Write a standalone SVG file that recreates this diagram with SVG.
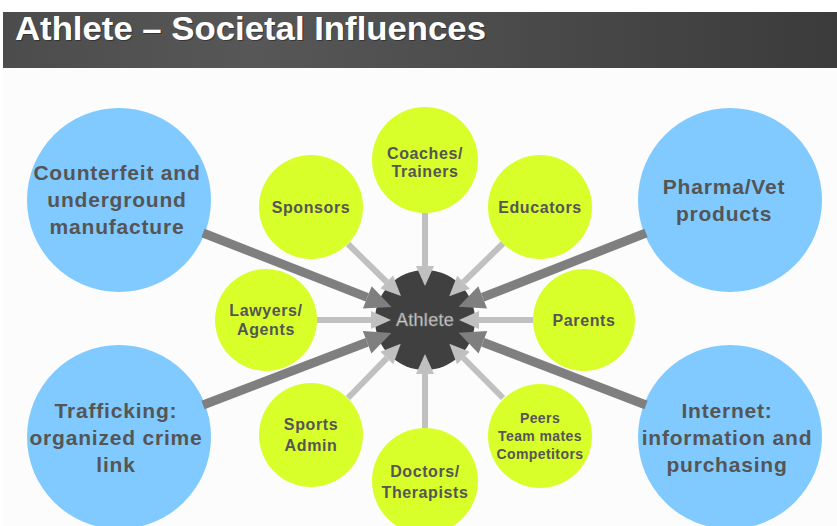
<svg xmlns="http://www.w3.org/2000/svg" width="837" height="526" viewBox="0 0 837 526">
<defs>
<linearGradient id="bar" x1="0" y1="0" x2="1" y2="0">
<stop offset="0" stop-color="#4c4c4c"/>
<stop offset="0.3" stop-color="#575757"/>
<stop offset="1" stop-color="#3b3b3b"/>
</linearGradient>
<marker id="hl" markerUnits="userSpaceOnUse" markerWidth="20" markerHeight="18" refX="0" refY="9" orient="auto" overflow="visible">
<path d="M0,0 L20,9 L0,18 z" fill="#c0c0c0"/>
</marker>
<marker id="hd" markerUnits="userSpaceOnUse" markerWidth="26" markerHeight="24" refX="0" refY="12" orient="auto" overflow="visible">
<path d="M0,0 L26,12 L0,24 z" fill="#7f7f7f"/>
</marker>
</defs>
<style>
.g{fill:#d9ff2a}
.b{fill:#80caff}
.tg{font-family:"Liberation Sans",Arial,sans-serif;font-weight:bold;font-size:16px;letter-spacing:0.6px;fill:#555;text-anchor:middle}
.tb{font-family:"Liberation Sans",Arial,sans-serif;font-weight:bold;font-size:21px;letter-spacing:0.8px;fill:#555;text-anchor:middle}
.cl{stroke:#c0c0c0;stroke-width:6;fill:none;marker-end:url(#hl)}
.cd{stroke:#7f7f7f;stroke-width:9;fill:none;marker-end:url(#hd)}
</style>
<rect x="0" y="0" width="837" height="526" fill="#ffffff"/>
<rect x="3" y="68" width="834" height="458" fill="#fcfcfc"/>
<g id="title">
<rect x="3" y="12" width="834" height="56" fill="url(#bar)"/>
<text x="16" y="41" font-family="Liberation Sans,Arial,sans-serif" font-weight="bold" font-size="33" fill="#000" opacity="0.35" textLength="471" lengthAdjust="spacingAndGlyphs">Athlete – Societal Influences</text>
<text x="15" y="40" font-family="Liberation Sans,Arial,sans-serif" font-weight="bold" font-size="33" fill="#ffffff" textLength="471" lengthAdjust="spacingAndGlyphs">Athlete – Societal Influences</text>
</g>
<g id="counterfeit"><circle class="b" cx="119" cy="200" r="92"/><text class="tb" x="117" y="180">Counterfeit and</text><text class="tb" x="117" y="207">underground</text><text class="tb" x="117" y="234">manufacture</text></g>
<g id="pharma"><circle class="b" cx="730" cy="200" r="92"/><text class="tb" x="724" y="194">Pharma/Vet</text><text class="tb" x="724" y="221">products</text></g>
<g id="trafficking"><circle class="b" cx="119" cy="437" r="92"/><text class="tb" x="116" y="418">Trafficking:</text><text class="tb" x="116" y="445">organized crime</text><text class="tb" x="116" y="472">link</text></g>
<g id="internet"><circle class="b" cx="730" cy="437" r="92"/><text class="tb" x="727" y="418">Internet:</text><text class="tb" x="727" y="445">information and</text><text class="tb" x="727" y="472">purchasing</text></g>
<g id="coaches"><circle class="g" cx="425" cy="160" r="53"/><text class="tg" x="425" y="159">Coaches/</text><text class="tg" x="425" y="177">Trainers</text></g>
<g id="sponsors"><circle class="g" cx="311" cy="207" r="52"/><text class="tg" x="311" y="213">Sponsors</text></g>
<g id="educators"><circle class="g" cx="540" cy="207" r="52"/><text class="tg" x="540" y="213">Educators</text></g>
<g id="lawyers"><circle class="g" cx="266" cy="320" r="51"/><text class="tg" x="266" y="316">Lawyers/</text><text class="tg" x="266" y="335">Agents</text></g>
<g id="parents"><circle class="g" cx="584" cy="320" r="51"/><text class="tg" x="584" y="326">Parents</text></g>
<g id="sportsadmin"><circle class="g" cx="311" cy="435" r="52"/><text class="tg" x="311" y="430">Sports</text><text class="tg" x="311" y="451">Admin</text></g>
<g id="peers"><circle class="g" cx="540" cy="436" r="52"/><text class="tg" x="540" y="423" style="font-size:14px;letter-spacing:0.4px">Peers</text><text class="tg" x="540" y="441" style="font-size:14px;letter-spacing:0.4px">Team mates</text><text class="tg" x="540" y="459" style="font-size:14px;letter-spacing:0.4px">Competitors</text></g>
<g id="doctors"><circle class="g" cx="425" cy="481" r="53"/><text class="tg" x="425" y="477">Doctors/</text><text class="tg" x="425" y="498">Therapists</text></g>
<g id="athlete"><circle cx="425" cy="320" r="50" fill="#404040"/></g>
<g id="connectors">
<line class="cl" x1="425" y1="213" x2="425" y2="266"/>
<line class="cl" x1="425" y1="428" x2="425" y2="374"/>
<line class="cl" x1="317" y1="320" x2="371" y2="320"/>
<line class="cl" x1="533" y1="320" x2="479" y2="320"/>
<line class="cl" x1="348" y1="244" x2="386.7" y2="282"/>
<line class="cl" x1="503" y1="243.5" x2="463.5" y2="282.2"/>
<line class="cl" x1="348" y1="398" x2="386.8" y2="358.1"/>
<line class="cl" x1="503" y1="398" x2="463.4" y2="358"/>
<line class="cd" x1="203" y1="233" x2="367.3" y2="297.4"/>
<line class="cd" x1="646" y1="233" x2="482.7" y2="297.3"/>
<line class="cd" x1="203" y1="405" x2="367.1" y2="342.2"/>
<line class="cd" x1="646" y1="405" x2="482.9" y2="342.2"/>
</g>
<text x="425" y="326" font-family="Liberation Sans,Arial,sans-serif" font-size="18" letter-spacing="0.3" text-anchor="middle" fill="#e8e8e8" stroke="#7a7a7a" stroke-width="0.7">Athlete</text>
</svg>
